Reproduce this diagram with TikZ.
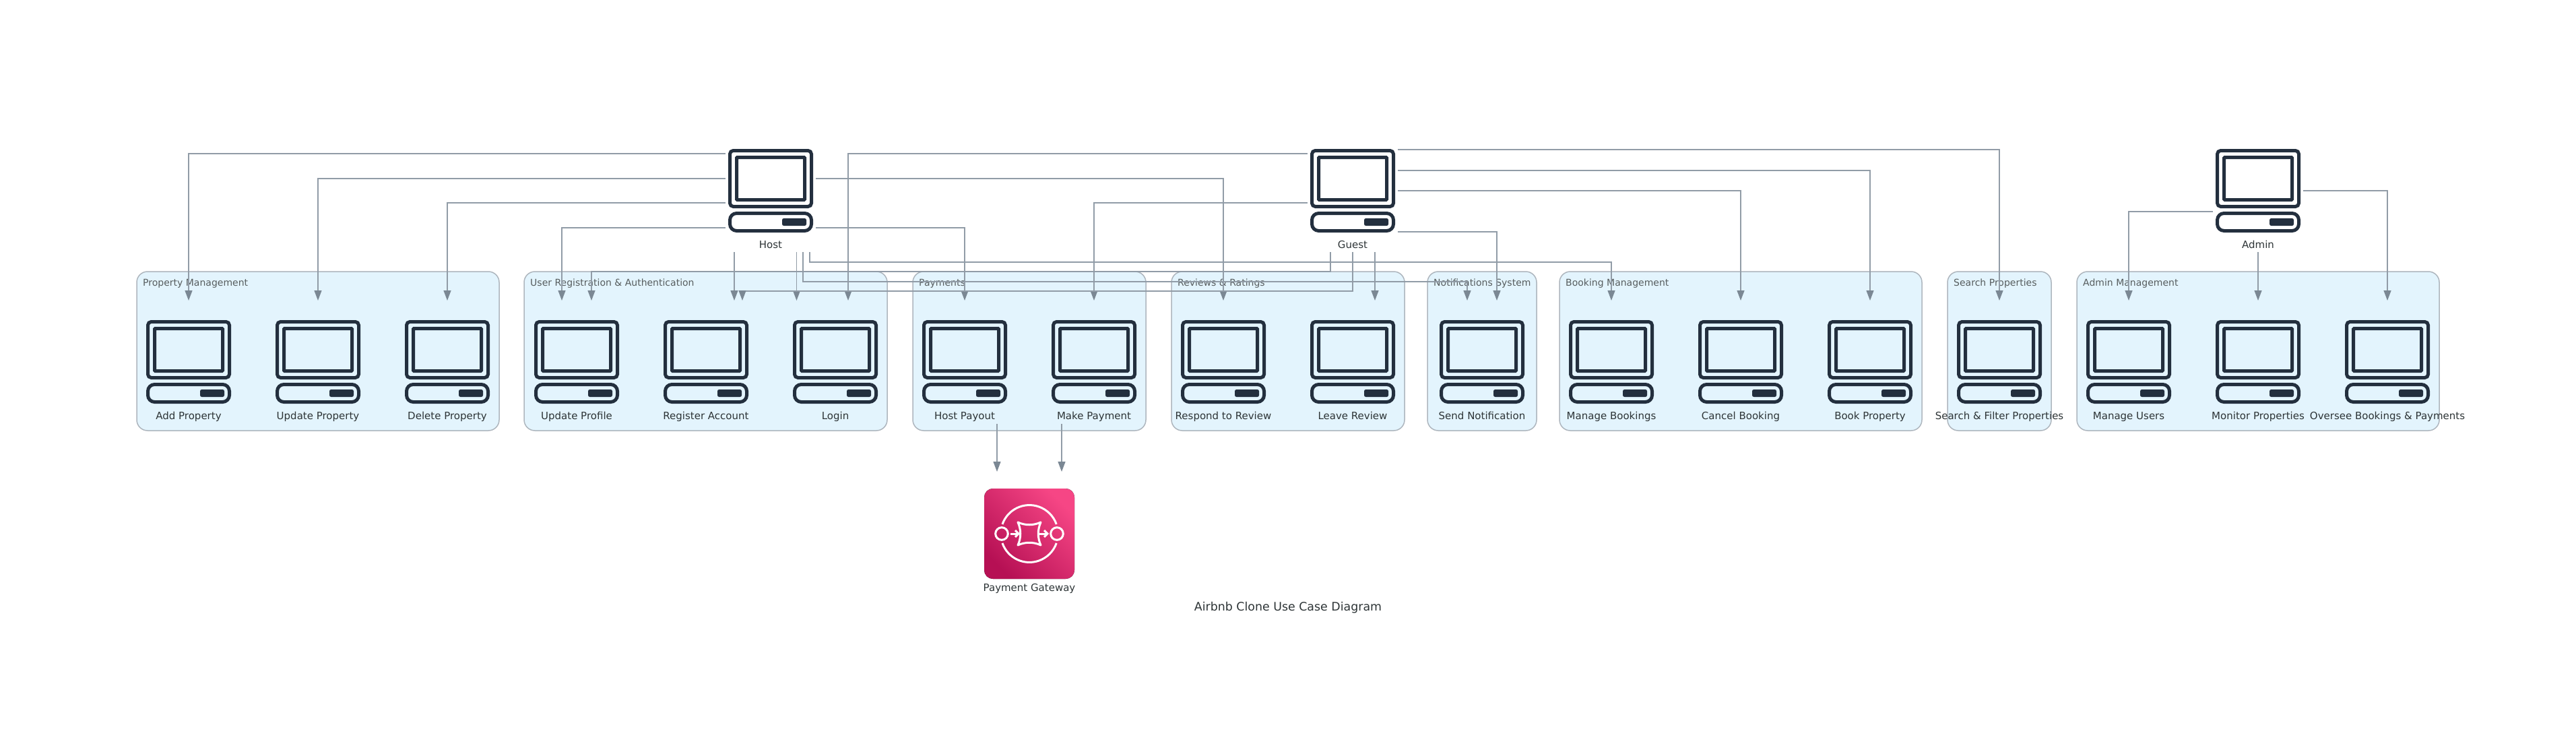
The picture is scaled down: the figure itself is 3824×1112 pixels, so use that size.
\documentclass[tikz,border=0pt]{standalone}
\usepackage{fontspec}
\setmainfont{DejaVu Sans}
\usetikzlibrary{calc,arrows.meta,shadings}
\definecolor{iconc}{HTML}{232F3E}
\definecolor{edgec}{HTML}{919CA7}
\definecolor{tipc}{HTML}{7B8894}
\definecolor{clfill}{HTML}{E3F4FD}
\definecolor{cldraw}{HTML}{AEB6BE}
\definecolor{txt}{HTML}{2D3436}
\tikzset{
  iconbox/.style={minimum width=126pt,minimum height=124pt,inner sep=0pt,outer sep=0pt},
  iconline/.style={draw=iconc,line width=5pt},
  labeltext/.style={anchor=base,inner sep=0pt,font=\fontsize{15pt}{18pt}\selectfont,text=txt},
  clusterbox/.style={draw=cldraw,fill=clfill,line width=1.5pt,rounded corners=16pt,anchor=north west,minimum height=236pt,inner sep=0pt,outer sep=0pt},
  clustertitle/.style={anchor=base west,inner sep=0pt,font=\fontsize{14pt}{18pt}\selectfont,text=txt!80},
  edge/.style={draw=edgec,line width=1.3pt,-{Triangle[length=15pt,width=11pt,color=tipc]}},
  titletext/.style={anchor=base,inner sep=0pt,font=\fontsize{17.4pt}{22pt}\selectfont,text=txt},
  gwline/.style={draw=white,line width=3pt}
}
\newcommand{\monitor}[4]{%
  \node[iconbox] (#1) at (#2,#3) {};
  \begin{scope}[shift={(#1.center)}]
    \draw[iconline,rounded corners=5pt] (-60.5,-59.5) rectangle (60.5,23.5);
    \draw[iconline,rounded corners=1pt] (-50.5,-49.5) rectangle (50.5,13.5);
    \draw[iconline,rounded corners=10pt] (-60.5,33.5) rectangle (60.5,59.5);
    \fill[iconc,rounded corners=2.5pt] (17,41) rectangle (53,52);
  \end{scope}
  \node[labeltext] (#1-label) at (#2,#3+85.5) {#4};
}
\newcommand{\clusterpanel}[4]{%
  \node[clusterbox,minimum width={#3-#2}] (#1) at (#2,403) {};
  \node[clustertitle] (#1-title) at (#2+9,424) {#4};
}
\begin{document}
\begin{tikzpicture}[x=1pt,y=-1pt]
\useasboundingbox (0,0) rectangle (3824,1112);
% clusters
\clusterpanel{cprop}{203}{741}{Property Management}
\clusterpanel{cuser}{778}{1317}{User Registration \& Authentication}
\clusterpanel{cpay}{1355}{1701}{Payments}
\clusterpanel{crev}{1739}{2085}{Reviews \& Ratings}
\clusterpanel{cnot}{2119}{2281}{Notifications System}
\clusterpanel{cbook}{2315}{2853}{Booking Management}
\clusterpanel{csearch}{2891}{3045}{Search Properties}
\clusterpanel{cadmin}{3083}{3621}{Admin Management}
% icons
\monitor{host}{1144}{283}{Host}
\monitor{guest}{2008}{283}{Guest}
\monitor{admin}{3352}{283}{Admin}
\monitor{add}{280}{537}{Add Property}
\monitor{update}{472}{537}{Update Property}
\monitor{delete}{664}{537}{Delete Property}
\monitor{profile}{856}{537}{Update Profile}
\monitor{register}{1048}{537}{Register Account}
\monitor{login}{1240}{537}{Login}
\monitor{payout}{1432}{537}{Host Payout}
\monitor{makepay}{1624}{537}{Make Payment}
\monitor{respond}{1816}{537}{Respond to Review}
\monitor{leave}{2008}{537}{Leave Review}
\monitor{notify}{2200}{537}{Send Notification}
\monitor{manage}{2392}{537}{Manage Bookings}
\monitor{cancel}{2584}{537}{Cancel Booking}
\monitor{bookp}{2776}{537}{Book Property}
\monitor{search}{2968}{537}{Search \& Filter Properties}
\monitor{users}{3160}{537}{Manage Users}
\monitor{monitorp}{3352}{537}{Monitor Properties}
\monitor{oversee}{3544}{537}{Oversee Bookings \& Payments}
% gateway
\node[minimum width=134pt,minimum height=134pt,inner sep=0pt,outer sep=0pt] (gw) at (1528,792) {};
\fill[rounded corners=13pt,bottom color={rgb,255:red,182;green,16;blue,84},top color={rgb,255:red,246;green,70;blue,133},shading angle=-45]
  ($(gw.north west)$) rectangle ($(gw.south east)$);
\begin{scope}[shift={(gw.center)},x=1pt,y=1pt]
  \draw[gwline] (-40,14) arc (160.7:19.3:42.5);
  \draw[gwline] (-40,-14) arc (199.3:340.7:42.5);
  \draw[gwline] (-41,0) circle (9.3);
  \draw[gwline] (41,0) circle (9.3);
  \draw[gwline,line cap=round,line join=round] (-17,17) .. controls (-6,12) and (6,12) .. (17,17)
     .. controls (12,6) and (12,-6) .. (17,-17) .. controls (6,-12) and (-6,-12) .. (-17,-17)
     .. controls (-12,-6) and (-12,6) .. (-17,17) -- cycle;
  \draw[gwline] (-28,0) -- (-16,0);
  \draw[gwline,line join=miter] (-21,5) -- (-16,0) -- (-21,-5);
  \draw[gwline] (15,0) -- (27,0);
  \draw[gwline,line join=miter] (22,5) -- (27,0) -- (22,-5);
\end{scope}
\node[labeltext] (gw-label) at (1528,877.5) {Payment Gateway};
\node[titletext] (title) at (1912,906.5) {Airbnb Clone Use Case Diagram};
% host edges
\draw[edge] ($(host)+(-67,-55)$) -| ($(add)+(0,-91)$);
\draw[edge] ($(host)+(-67,-18)$) -| ($(update)+(0,-91)$);
\draw[edge] ($(host)+(-67,18)$) -| ($(delete)+(0,-91)$);
\draw[edge] ($(host)+(-67,55)$) -| ($(profile)+(-22,-91)$);
\draw[edge] ($(host)+(67,-18)$) -| ($(respond)+(0,-91)$);
\draw[edge] ($(host)+(67,55)$) -| ($(payout)+(0,-91)$);
\draw[edge] ($(host)+(-54,91)$) -- ($(register)+(42,-91)$);
\draw[edge] ($(host)+(38.5,91)$) -- ($(login)+(-57.5,-91)$);
\draw[edge] ($(host)+(48,91)$) -- ++(0,44) -| ($(notify)+(-22,-91)$);
\draw[edge] ($(host)+(58,91)$) -- ++(0,15) -| ($(manage)+(0,-91)$);
% guest edges
\draw[edge] ($(guest)+(-67,-55)$) -| ($(login)+(19,-91)$);
\draw[edge] ($(guest)+(-67,18)$) -| ($(makepay)+(0,-91)$);
\draw[edge] ($(guest)+(67,-61)$) -| ($(search)+(0,-91)$);
\draw[edge] ($(guest)+(67,-30)$) -| ($(bookp)+(0,-91)$);
\draw[edge] ($(guest)+(67,0)$) -| ($(cancel)+(0,-91)$);
\draw[edge] ($(guest)+(67,61)$) -| ($(notify)+(22,-91)$);
\draw[edge] ($(guest)+(-33,91)$) -- ++(0,29) -| ($(profile)+(22,-91)$);
\draw[edge] ($(guest)+(0,91)$) -- ++(0,58) -| ($(register)+(54,-91)$);
\draw[edge] ($(guest)+(33,91)$) -- ($(leave)+(33,-91)$);
% admin edges
\draw[edge] ($(admin)+(-67,31)$) -| ($(users)+(0,-91)$);
\draw[edge] ($(admin)+(0,91)$) -- ($(monitorp)+(0,-91)$);
\draw[edge] ($(admin)+(67,0)$) -| ($(oversee)+(0,-91)$);
% payment edges
\draw[edge] ($(payout)+(48,92)$) -- ($(gw)+(-48,-92)$);
\draw[edge] ($(makepay)+(-48,92)$) -- ($(gw)+(48,-92)$);
\end{tikzpicture}
\end{document}
